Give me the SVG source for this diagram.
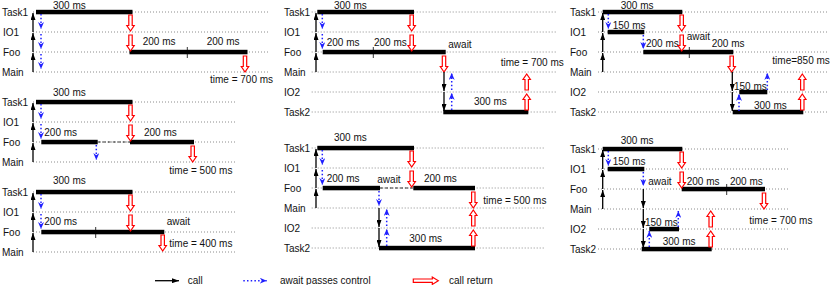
<svg xmlns="http://www.w3.org/2000/svg" xmlns:xlink="http://www.w3.org/1999/xlink" width="830" height="285" viewBox="0 0 830 285">
<style>
.g{stroke:#8c8c8c;stroke-width:1;stroke-dasharray:1 2;fill:none}
.bar{fill:#000}
.t{font-family:"Liberation Sans",Arial,sans-serif;font-size:10px;fill:#111}
.l{font-family:"Liberation Sans",Arial,sans-serif;font-size:10px;fill:#111}
.c{stroke:#000;stroke-width:1.3;fill:none;marker-end:url(#mc)}
.a{stroke:#1f1fff;stroke-width:1.5;stroke-dasharray:1.5 2.2;fill:none;marker-end:url(#mb)}
.r{fill:#fff;stroke:#f00;stroke-width:1.2}
.d{stroke:#000;stroke-width:0.8;stroke-dasharray:3 2;fill:none}
.k{stroke:#000;stroke-width:0.8;fill:none}
</style>
<defs>
<marker id="mc" viewBox="0 0 7 5" refX="7" refY="2.5" markerWidth="7" markerHeight="5" markerUnits="userSpaceOnUse" orient="auto"><path d="M0,0 L7,2.5 L0,5 Z" fill="#000"/></marker>
<marker id="mb" viewBox="0 0 7 6" refX="7" refY="3" markerWidth="7" markerHeight="6" markerUnits="userSpaceOnUse" orient="auto"><path d="M0,0 L7,3 L0,6 L2.2,3 Z" fill="#1f1fff"/></marker>
<path id="rd" class="r" d="M-1.7,0 H1.7 V10.5 H3.7 L0,16 L-3.7,10.5 H-1.7 Z"/>
<path id="ru" class="r" d="M-1.7,0 H1.7 V-10.5 H3.7 L0,-16 L-3.7,-10.5 H-1.7 Z"/>
<path id="rr" class="r" d="M0,-1.7 V1.7 H19 V3.7 L25,0 L19,-3.7 V-1.7 Z"/>
</defs>
<rect width="830" height="285" fill="#fff"/>

<g id="panel1">
<path class="g" d="M33,12H270M33,32H270M33,52H270M33,72H270"/>
<text class="l" x="2" y="16.3">Task1</text><text class="l" x="3" y="36.3">IO1</text><text class="l" x="3" y="56.3">Foo</text><text class="l" x="2" y="76.2">Main</text>
<rect class="bar" x="36" y="9.8" width="96.5" height="4.5"/>
<rect class="bar" x="129.5" y="49.8" width="118" height="4.5"/>
<path class="k" d="M187.3,47V58"/>
<text class="t" x="53" y="8.5">300 ms</text><text class="t" x="142.7" y="45">200 ms</text><text class="t" x="206.7" y="45">200 ms</text><text class="t" x="210" y="83">time = 700 ms</text>
</g>

<g id="panel2">
<path class="g" d="M33,102H237M33,122H237M33,142H237M33,162H237"/>
<text class="l" x="2" y="106.3">Task1</text><text class="l" x="3" y="126.3">IO1</text><text class="l" x="3" y="146.3">Foo</text><text class="l" x="2" y="166.2">Main</text>
<rect class="bar" x="36" y="99.8" width="96.5" height="4.5"/>
<rect class="bar" x="41.3" y="139.8" width="56.4" height="4.5"/>
<rect class="bar" x="130" y="139.8" width="64" height="4.5"/>
<path class="d" d="M97.7,142H130"/>
<text class="t" x="53" y="96">300 ms</text><text class="t" x="44.3" y="136">200 ms</text><text class="t" x="144" y="136">200 ms</text><text class="t" x="169.3" y="173.5">time = 500 ms</text>
</g>

<g id="panel3">
<path class="g" d="M33,192H237M33,212H237M33,232H237M33,252H237"/>
<text class="l" x="2" y="196.3">Task1</text><text class="l" x="3" y="216.3">IO1</text><text class="l" x="3" y="236.3">Foo</text><text class="l" x="2" y="256.2">Main</text>
<rect class="bar" x="36" y="189.8" width="96.5" height="4.5"/>
<rect class="bar" x="41.3" y="229.8" width="123" height="4.5"/>
<path class="k" d="M95.7,227V238"/>
<text class="t" x="53" y="184">300 ms</text><text class="t" x="44.3" y="225">200 ms</text><text class="t" x="166.7" y="224.5">await</text><text class="t" x="169.3" y="246.7">time = 400 ms</text>
</g>

<g id="panel4">
<path class="g" d="M311.7,12H557M311.7,32H557M311.7,52H557M311.7,72H557M311.7,92H557M311.7,112H557"/>
<text class="l" x="284" y="16.3">Task1</text><text class="l" x="284" y="36.3">IO1</text><text class="l" x="284" y="56.3">Foo</text><text class="l" x="284" y="76.2">Main</text><text class="l" x="284" y="96.3">IO2</text><text class="l" x="284" y="116.3">Task2</text>
<rect class="bar" x="317.3" y="9.8" width="96.7" height="4.5"/>
<rect class="bar" x="322.7" y="49.8" width="123" height="4.5"/>
<rect class="bar" x="443.3" y="109.8" width="85" height="4.5"/>
<path class="k" d="M373.3,47V58"/>
<text class="t" x="334" y="8.5">300 ms</text><text class="t" x="326.7" y="46">200 ms</text><text class="t" x="374" y="46">200 ms</text><text class="t" x="448.3" y="47.5">await</text><text class="t" x="474" y="105">300 ms</text><text class="t" x="500.7" y="65.5">time = 700 ms</text>
</g>

<g id="panel5">
<path class="g" d="M311.7,148H545M311.7,168H545M311.7,188H545M311.7,208H545M311.7,228H545M311.7,248H545"/>
<text class="l" x="284" y="152.3">Task1</text><text class="l" x="284" y="172.3">IO1</text><text class="l" x="284" y="192.3">Foo</text><text class="l" x="284" y="212.2">Main</text><text class="l" x="284" y="232.3">IO2</text><text class="l" x="284" y="252.3">Task2</text>
<rect class="bar" x="317.3" y="145.8" width="96.7" height="4.5"/>
<rect class="bar" x="322.7" y="185.8" width="57.3" height="4.5"/>
<rect class="bar" x="413.3" y="185.8" width="61.7" height="4.5"/>
<rect class="bar" x="379" y="245.8" width="96" height="4.5"/>
<path class="d" d="M380,188H413.3"/>
<text class="t" x="334" y="140.5">300 ms</text><text class="t" x="326.7" y="182.3">200 ms</text><text class="t" x="377.3" y="183">await</text><text class="t" x="424" y="182.3">200 ms</text><text class="t" x="409.3" y="241.7">300 ms</text><text class="t" x="483.3" y="204">time = 500 ms</text>
</g>

<g id="panel6">
<path class="g" d="M598,12H827M598,32H827M598,52H827M598,72H827M598,92H827M598,112H827"/>
<text class="l" x="570" y="16.3">Task1</text><text class="l" x="570" y="36.3">IO1</text><text class="l" x="570" y="56.3">Foo</text><text class="l" x="570" y="76.2">Main</text><text class="l" x="570" y="96.3">IO2</text><text class="l" x="570" y="116.3">Task2</text>
<rect class="bar" x="602.7" y="9.8" width="79.6" height="4.5"/>
<rect class="bar" x="607.7" y="29.8" width="36.6" height="4.5"/>
<rect class="bar" x="643.3" y="49.8" width="90" height="4.5"/>
<rect class="bar" x="739.3" y="89.8" width="28" height="4.5"/>
<rect class="bar" x="732.7" y="109.8" width="70.6" height="4.5"/>
<path class="k" d="M689.3,47V58"/>
<text class="t" x="620.7" y="8.5">300 ms</text><text class="t" x="612.7" y="28.5">150 ms</text><text class="t" x="646" y="46.5">200 ms</text><text class="t" x="686.7" y="40">await</text><text class="t" x="711.7" y="46.5">200 ms</text><text class="t" x="734" y="89.5">150 ms</text><text class="t" x="754" y="108.5">300 ms</text><text class="t" x="772.3" y="63.5">time=850 ms</text>
</g>

<g id="panel7">
<path class="g" d="M598,149H788M598,169H788M598,189H788M598,209H788M598,229H788M598,249H788"/>
<text class="l" x="570" y="153.3">Task1</text><text class="l" x="570" y="173.3">IO1</text><text class="l" x="570" y="193.3">Foo</text><text class="l" x="570" y="213.2">Main</text><text class="l" x="570" y="233.3">IO2</text><text class="l" x="570" y="253.3">Task2</text>
<rect class="bar" x="602.7" y="146.8" width="79.6" height="4.5"/>
<rect class="bar" x="607.7" y="166.8" width="36.6" height="4.5"/>
<rect class="bar" x="681.7" y="186.8" width="83.3" height="4.5"/>
<rect class="bar" x="649.3" y="226.8" width="29.7" height="4.5"/>
<rect class="bar" x="641.7" y="246.8" width="70" height="4.5"/>
<path class="k" d="M726.7,184V195"/>
<text class="t" x="620.7" y="144">300 ms</text><text class="t" x="612.7" y="164.5">150 ms</text><text class="t" x="648.3" y="184.5">await</text><text class="t" x="686.7" y="185">200 ms</text><text class="t" x="730" y="185">200 ms</text><text class="t" x="645" y="226">150 ms</text><text class="t" x="662.7" y="245">300 ms</text><text class="t" x="749.3" y="223.5">time = 700 ms</text>
</g>

<g id="connectors">
<path class="c" d="M33,72V53"/><path class="c" d="M33,52V33"/><path class="c" d="M33,32V13"/>
<path class="a" d="M41,14V29"/><path class="a" d="M41,34V49"/><path class="a" d="M41,54V69"/>
<use xlink:href="#rd" x="130.5" y="15"/><use xlink:href="#rd" x="130.5" y="35"/><use xlink:href="#rd" x="245" y="56"/>
<path class="c" d="M33,162V143"/><path class="c" d="M33,142V123"/><path class="c" d="M33,122V103"/>
<path class="a" d="M41,104V119"/><path class="a" d="M41,124V139"/><path class="a" d="M96.3,145V160"/>
<use xlink:href="#rd" x="130.5" y="105"/><use xlink:href="#rd" x="130.5" y="125"/><use xlink:href="#rd" x="192.7" y="146"/>
<path class="c" d="M33,252V233"/><path class="c" d="M33,232V213"/><path class="c" d="M33,212V193"/>
<path class="a" d="M41,194V209"/><path class="a" d="M41,214V229"/>
<use xlink:href="#rd" x="130.5" y="195"/><use xlink:href="#rd" x="130.5" y="215"/><use xlink:href="#rd" x="162.7" y="235"/>
<path class="c" d="M316,72V53"/><path class="c" d="M316,52V33"/><path class="c" d="M316,32V13"/>
<path class="a" d="M322.3,14V29"/><path class="a" d="M322.3,34V49"/>
<use xlink:href="#rd" x="411.7" y="15"/><use xlink:href="#rd" x="411.7" y="35"/><use xlink:href="#rd" x="444" y="56"/>
<path class="c" d="M444,72V91"/><path class="c" d="M444,92V111"/>
<path class="a" d="M451.7,110V93"/><path class="a" d="M451.7,90V73"/>
<use xlink:href="#ru" x="526.7" y="110"/><use xlink:href="#ru" x="526.7" y="90"/>
<path class="c" d="M316,208V189"/><path class="c" d="M316,188V169"/><path class="c" d="M316,168V149"/>
<path class="a" d="M322.3,150V165"/><path class="a" d="M322.3,170V185"/><path class="a" d="M379,191V206"/>
<path class="c" d="M379,208V227"/><path class="c" d="M379,228V247"/>
<path class="a" d="M386.7,246V229"/><path class="a" d="M386.7,226V209"/>
<use xlink:href="#rd" x="411.7" y="151"/><use xlink:href="#rd" x="411.7" y="171"/><use xlink:href="#rd" x="473.3" y="192"/>
<use xlink:href="#ru" x="473.3" y="246"/><use xlink:href="#ru" x="473.3" y="226"/>
<path class="c" d="M602.7,72V53"/><path class="c" d="M602.7,52V33"/><path class="c" d="M602.7,32V13"/>
<path class="a" d="M608.3,14V29"/><path class="a" d="M643.3,35V49"/>
<use xlink:href="#rd" x="681.7" y="15"/><use xlink:href="#rd" x="681.7" y="35"/><use xlink:href="#rd" x="731.7" y="56"/>
<path class="c" d="M732.3,72V91"/><path class="c" d="M732.3,92V111"/>
<path class="a" d="M739,111V94"/><path class="a" d="M767.3,90V73"/>
<use xlink:href="#ru" x="802.3" y="110"/><use xlink:href="#ru" x="802.3" y="90"/>
<path class="c" d="M602.7,209V190"/><path class="c" d="M602.7,189V170"/><path class="c" d="M602.7,169V150"/>
<path class="a" d="M608.3,151V166"/><path class="a" d="M643.3,172V186"/>
<path class="c" d="M643.3,189V208"/><path class="c" d="M643.3,209V228"/><path class="c" d="M643.3,229V248"/>
<use xlink:href="#rd" x="681.7" y="152"/><use xlink:href="#rd" x="681.7" y="172"/><use xlink:href="#rd" x="764" y="193"/>
<path class="a" d="M649.3,247V231"/><path class="a" d="M678.3,227V211"/>
<use xlink:href="#ru" x="710.7" y="247"/><use xlink:href="#ru" x="710.7" y="227"/>
</g>

<g id="legend">
<path class="c" d="M155,280.7H179"/><text class="t" x="187.7" y="284">call</text>
<path class="a" d="M243.3,280.7H266.7"/><text class="t" x="280" y="284">await passes control</text>
<use xlink:href="#rr" x="413.3" y="280.7"/><text class="t" x="449" y="284">call return</text>
</g>
</svg>
